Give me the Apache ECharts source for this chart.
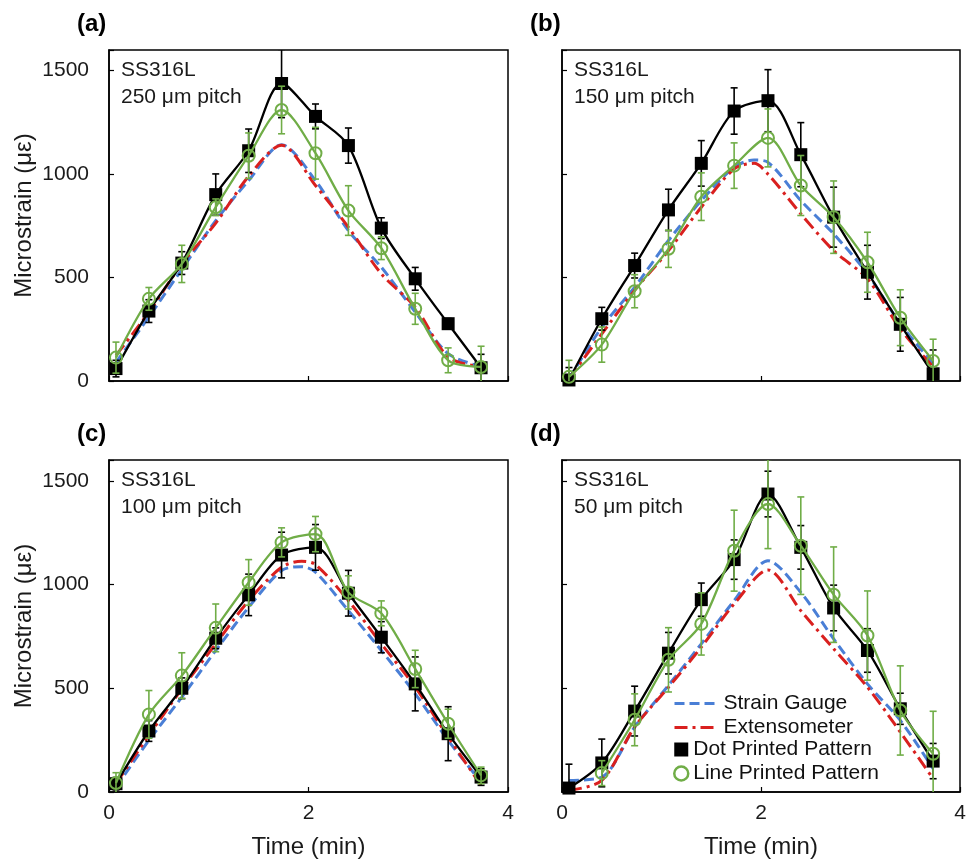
<!DOCTYPE html>
<html><head><meta charset="utf-8">
<script src="https://cdn.jsdelivr.net/npm/echarts@6/dist/echarts.min.js"></script>
<style>html,body{margin:0;padding:0;background:#fff}#c{width:975px;height:866px}</style>
</head><body><div id="c"></div>
<script>
// ---------- data ----------
const times = [0.07, 0.4, 0.73, 1.07, 1.4, 1.73, 2.07, 2.4, 2.73, 3.07, 3.4, 3.73];
const refTimesPeak = [0.07, 0.4, 0.73, 1.07, 1.4, 1.73, 1.93, 2.07, 2.4, 2.73, 3.07, 3.4, 3.73];
const xTicks = [0, 2, 4];
const yTicks = [0, 500, 1000, 1500];

// (a) 250 µm pitch
const dotA     = [60, 338, 570, 901, 1113, 1438, 1279, 1138, 739, 494, 277, 64];
const dotErrA  = [40, 55, 55, 100, 105, 165, 60, 85, 50, 55, 25, 65];
const lineA    = [113, 397, 566, 840, 1089, 1310, 1101, 824, 642, 349, 100, 68];
const lineErrA = [75, 55, 90, 40, 110, 115, 125, 120, 55, 75, 60, 100];
const gaugeA   = [90, 310, 540, 775, 969, 1142, 969, 727, 550, 333, 132, 70];
const extA     = [124, 333, 566, 763, 990, 1140, 945, 743, 518, 357, 116, 68];

// (b) 150 µm pitch
const dotB     = [5, 301, 558, 827, 1052, 1305, 1355, 1094, 792, 526, 274, 35];
const dotErrB  = [60, 55, 60, 100, 110, 112, 150, 155, 145, 130, 130, 115];
const lineB    = [20, 176, 434, 639, 891, 1041, 1175, 945, 792, 574, 306, 97];
const lineErrB = [80, 85, 80, 90, 115, 110, 140, 145, 175, 145, 135, 105];
const gaugeB   = [10, 260, 454, 679, 872, 1033, 1068, 1057, 872, 711, 518, 277, 84];
const extB     = [10, 228, 438, 630, 840, 1025, 1052, 1000, 808, 630, 494, 252, 68];

// (c) 100 µm pitch
const dotC     = [40, 294, 500, 741, 950, 1142, 1179, 958, 746, 521, 281, 72];
const dotErrC  = [30, 50, 50, 50, 100, 110, 110, 110, 75, 130, 130, 40];
const lineC    = [43, 374, 561, 791, 1010, 1203, 1243, 962, 861, 593, 329, 80];
const lineErrC = [50, 115, 110, 115, 110, 70, 85, 80, 60, 90, 70, 40];
const gaugeC   = [24, 249, 457, 682, 890, 1067, 1086, 1059, 874, 682, 473, 249, 48];
const extC     = [40, 273, 497, 714, 922, 1083, 1112, 1096, 922, 714, 505, 265, 32];

// (d) 50 µm pitch
const dotD     = [19, 140, 390, 669, 927, 1120, 1436, 1179, 887, 682, 401, 149];
const dotErrD  = [115, 115, 120, 100, 80, 95, 110, 105, 110, 105, 75, 85];
const lineD    = [null, 91, 348, 637, 810, 1163, 1388, 1187, 951, 754, 393, 184];
const lineErrD = [0, 60, 125, 155, 150, 195, 215, 235, 230, 215, 215, 205];
const gaugeD   = [56, 72, 313, 514, 714, 922, 1115, 962, 738, 521, 345, 112];
const extD     = [8, 56, 313, 505, 698, 906, 1070, 874, 690, 505, 289, 64];

const panelTags = ['(a)', '(b)', '(c)', '(d)'];
const materials = ['SS316L', 'SS316L', 'SS316L', 'SS316L'];
const pitches = ['250 μm pitch', '150 μm pitch', '100 μm pitch', '50 μm pitch'];
const seriesNames = ['Strain Gauge', 'Extensometer', 'Dot Printed Pattern', 'Line Printed Pattern'];
const xName = 'Time (min)';
const yName = 'Microstrain (με)';

// ---------- layout / styling ----------
const FONT = '"Liberation Sans", Arial, sans-serif';
const C_BLUE = '#4a7fd6', C_RED = '#d9201f', C_GREEN = '#70ad47', C_BLACK = '#000';
const grids = [
  {left: 109, top: 50, width: 399, height: 331},
  {left: 562, top: 50, width: 398, height: 331},
  {left: 109, top: 460, width: 399, height: 332},
  {left: 562, top: 460, width: 398, height: 332}
];
const panels = [
  {dot: dotA, dotErr: dotErrA, line: lineA, lineErr: lineErrA, gauge: gaugeA, ext: extA, refT: times},
  {dot: dotB, dotErr: dotErrB, line: lineB, lineErr: lineErrB, gauge: gaugeB, ext: extB, refT: refTimesPeak},
  {dot: dotC, dotErr: dotErrC, line: lineC, lineErr: lineErrC, gauge: gaugeC, ext: extC, refT: refTimesPeak},
  {dot: dotD, dotErr: dotErrD, line: lineD, lineErr: lineErrD, gauge: gaugeD, ext: extD, refT: times}
];

function pairs(t, v) { return t.map((x, i) => [x, v[i]]); }
function errData(t, v, e) {
  const out = [];
  t.forEach((x, i) => { if (v[i] != null && e[i] > 0) out.push([x, v[i], e[i]]); });
  return out;
}
function errRender(color) {
  return function (params, api) {
    const x = api.value(0), y = api.value(1), e = api.value(2);
    const p1 = api.coord([x, y + e]);
    const p2 = api.coord([x, y - e]);
    const w = 3.5;
    const st = {stroke: color, lineWidth: 1.6};
    return {type: 'group', children: [
      {type: 'line', shape: {x1: p1[0], y1: p1[1], x2: p2[0], y2: p2[1]}, style: st},
      {type: 'line', shape: {x1: p1[0] - w, y1: p1[1], x2: p1[0] + w, y2: p1[1]}, style: st},
      {type: 'line', shape: {x1: p2[0] - w, y1: p2[1], x2: p2[0] + w, y2: p2[1]}, style: st}
    ]};
  };
}

const xAxes = [], yAxes = [], series = [], graphics = [];
panels.forEach((p, k) => {
  const bottomRow = k >= 2, leftCol = k % 2 === 0;
  xAxes.push({
    type: 'value', gridIndex: k, min: xTicks[0], max: xTicks[xTicks.length - 1], interval: xTicks[1] - xTicks[0],
    axisLine: {show: true, lineStyle: {color: '#000', width: 1.5}},
    axisTick: {show: true, inside: true, length: 5, lineStyle: {color: '#000', width: 1.2}},
    axisLabel: {show: bottomRow, fontSize: 21, fontFamily: FONT, color: '#1a1a1a', margin: 11},
    splitLine: {show: false},
    name: bottomRow ? xName : '', nameLocation: 'middle', nameGap: 43,
    nameTextStyle: {fontSize: 24, fontFamily: FONT, color: '#1a1a1a'}
  });
  yAxes.push({
    type: 'value', gridIndex: k, min: 0, max: 1600, interval: yTicks[1] - yTicks[0],
    axisLine: {show: true, lineStyle: {color: '#000', width: 1.5}},
    axisTick: {show: true, inside: true, length: 5, lineStyle: {color: '#000', width: 1.2}},
    axisLabel: {show: leftCol, fontSize: 21, fontFamily: FONT, color: '#1a1a1a', margin: 20,
      formatter: v => (yTicks.indexOf(v) >= 0 ? String(v) : '')},
    splitLine: {show: false},
    name: leftCol ? yName : '', nameLocation: 'middle', nameGap: 73,
    nameTextStyle: {fontSize: 24, fontFamily: FONT, color: '#1a1a1a'}
  });
  const ax = {xAxisIndex: k, yAxisIndex: k};
  series.push(Object.assign({
    name: seriesNames[0], type: 'line', data: pairs(p.refT, p.gauge), symbol: 'none', smooth: 0.3,
    lineStyle: {color: C_BLUE, width: 3, type: [10, 5]}, itemStyle: {color: C_BLUE}, z: 2
  }, ax));
  series.push(Object.assign({
    name: seriesNames[1], type: 'line', data: pairs(p.refT, p.ext), symbol: 'none', smooth: 0.3,
    lineStyle: {color: C_RED, width: 3, type: [13, 5, 3, 5]}, itemStyle: {color: C_RED}, z: 2
  }, ax));
  series.push(Object.assign({
    name: seriesNames[2] + ' err', type: 'custom', data: errData(times, p.dot, p.dotErr),
    renderItem: errRender(C_BLACK), clip: true, z: 3, silent: true
  }, ax));
  series.push(Object.assign({
    name: seriesNames[2], type: 'line', data: pairs(times, p.dot), symbol: 'rect', symbolSize: 13, smooth: 0.3,
    lineStyle: {color: C_BLACK, width: 2.3}, itemStyle: {color: C_BLACK}, z: 4
  }, ax));
  series.push(Object.assign({
    name: seriesNames[3] + ' err', type: 'custom', data: errData(times, p.line, p.lineErr),
    renderItem: errRender(C_GREEN), clip: true, z: 5, silent: true
  }, ax));
  series.push(Object.assign({
    name: seriesNames[3], type: 'line', data: pairs(times, p.line), symbol: 'circle', symbolSize: 12, smooth: 0.3,
    connectNulls: false,
    lineStyle: {color: C_GREEN, width: 2.3}, itemStyle: {color: 'rgba(255,255,255,0)', borderColor: C_GREEN, borderWidth: 2}, z: 6
  }, ax));

  const g = grids[k];
  graphics.push({type: 'text', left: g.left - 32, top: g.top - 38,
    style: {text: panelTags[k], font: 'bold 24px ' + FONT, fill: '#000'}});
  graphics.push({type: 'text', left: g.left + 12, top: g.top + 7,
    style: {text: materials[k] + '\n' + pitches[k], font: '21px ' + FONT, fill: '#1a1a1a', lineHeight: 27}});
});

const option = {
  animation: false,
  backgroundColor: '#fff',
  grid: grids.map(g => Object.assign({show: true, borderColor: '#000', borderWidth: 1.5, backgroundColor: 'transparent'}, g)),
  xAxis: xAxes,
  yAxis: yAxes,
  legend: [
    {
      data: [
        {name: seriesNames[0], itemStyle: {opacity: 0}, lineStyle: {width: 3}},
        {name: seriesNames[1], itemStyle: {opacity: 0}, lineStyle: {width: 3}}
      ],
      orient: 'vertical', left: 673, top: 693, padding: 0, itemWidth: 44, itemHeight: 14, itemGap: 3,
      selectedMode: false,
      textStyle: {fontSize: 21, fontFamily: FONT, color: '#111', lineHeight: 20}
    },
    {
      data: [
        {name: seriesNames[2], icon: 'rect'},
        {name: seriesNames[3], icon: 'circle', itemStyle: {color: 'rgba(255,255,255,0)', borderColor: C_GREEN, borderWidth: 2.5}}
      ],
      orient: 'vertical', left: 673, top: 739, padding: 0, itemWidth: 14, itemHeight: 14, itemGap: 3,
      selectedMode: false,
      textStyle: {fontSize: 21, fontFamily: FONT, color: '#111', lineHeight: 20}
    }
  ],
  graphic: graphics,
  series: series
};
const chart = echarts.init(document.getElementById('c'), null, {renderer: 'canvas'});
chart.setOption(option);
</script>
</body></html>
